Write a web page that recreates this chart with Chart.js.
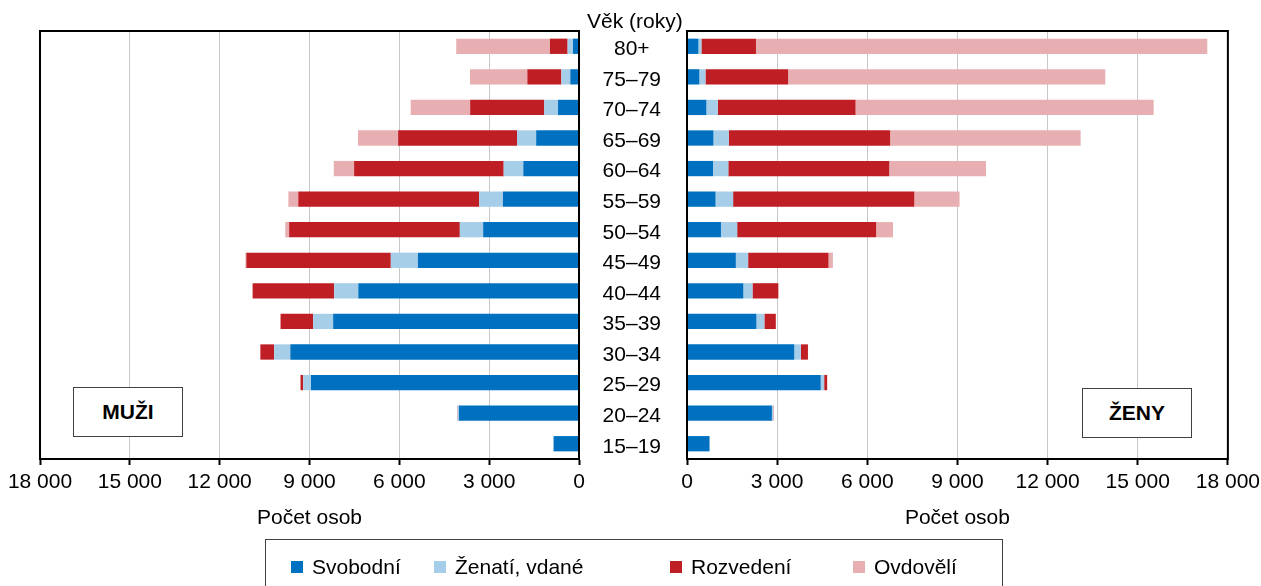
<!DOCTYPE html>
<html>
<head>
<meta charset="utf-8">
<script src="https://cdn.jsdelivr.net/npm/chart.js@4/dist/chart.umd.min.js"></script>
<style>
  body { margin: 0; background: #fff; font-family: 'Liberation Sans', Arial, sans-serif; color: #000; }
  #page { position: relative; width: 1261px; height: 586px; overflow: hidden; }
  canvas { position: absolute; top: 0; }
  #menChart { left: 0; }
  #womenChart { left: 586px; }
  .txt { position: absolute; font-size: 21px; white-space: nowrap; }
  .sexBox { position: absolute; border: 1px solid #404040; font-weight: bold; font-size: 21px;
            display: flex; align-items: center; justify-content: center; background: #fff; }
  #legend { position: absolute; left: 265px; top: 539px; width: 736px; height: 60px; border: 1px solid #404040; }
  .legItem { position: absolute; top: 15px; font-size: 21px; display: flex; align-items: center; }
  .legItem span.sq { display: inline-block; width: 12px; height: 12px; margin-right: 9px; }
</style>
</head>
<body>
<div id="page">
  <canvas id="menChart" width="600" height="545"></canvas>
  <canvas id="womenChart" width="679" height="545"></canvas>
  <div class="txt" style="left:587px; top:9px;">Věk (roky)</div>
  <div class="sexBox" style="left:73px; top:387px; width:108px; height:48px;">MUŽI</div>
  <div class="sexBox" style="left:1082px; top:388px; width:108px; height:48px;">ŽENY</div>
  <div id="legend"></div>
</div>

<script>
// Age groups, top to bottom
const ageGroups = ['80+', '75–79', '70–74', '65–69', '60–64', '55–59', '50–54',
  '45–49', '40–44', '35–39', '30–34', '25–29', '20–24', '15–19'];

const seriesNames = ['Svobodní', 'Ženatí, vdané', 'Rozvedení', 'Ovdovělí'];
const seriesColors = ['#0070C0', '#A6CEE8', '#BE1E24', '#E7AFB1'];

// Men
const menSingle   = [200, 290, 700, 1430, 1860, 2540, 3200, 5380, 7370, 8210, 9640, 8950, 4010, 850];
const menMarried  = [180, 300, 460, 640, 655, 795, 780, 905, 805, 670, 540, 260, 40, 0];
const menDivorced = [590, 1135, 2475, 3970, 4995, 6040, 5700, 4825, 2720, 1085, 460, 90, 10, 0];
const menWidowed  = [3130, 1915, 1985, 1340, 680, 330, 130, 30, 20, 10, 5, 0, 0, 0];

// Women
const womenSingle   = [380, 410, 645, 880, 865, 950, 1130, 1625, 1875, 2310, 3570, 4450, 2825, 750];
const womenMarried  = [100, 205, 380, 510, 510, 585, 540, 410, 305, 265, 220, 115, 40, 0];
const womenDivorced = [1815, 2750, 4585, 5370, 5355, 6030, 4625, 2675, 850, 380, 235, 100, 10, 0];
const womenWidowed  = [15020, 10555, 9920, 6340, 3220, 1505, 560, 145, 30, 10, 5, 0, 0, 0];

const axisMax = 18000;
const axisStep = 3000;

Chart.defaults.font.family = "'Liberation Sans', Arial, sans-serif";
Chart.defaults.font.size = 21;
Chart.defaults.color = '#000';

function fmt(v) {
  return String(v).replace(/\B(?=(\d{3})+(?!\d))/g, ' ');
}

// black frame round the plot area
const framePlugin = {
  id: 'frame',
  afterDatasetsDraw(chart) {
    const { ctx, chartArea: a } = chart;
    ctx.save();
    ctx.strokeStyle = '#000';
    ctx.lineWidth = 2;
    ctx.strokeRect(a.left, a.top, a.right - a.left, a.bottom - a.top);
    ctx.restore();
  }
};

function makeDatasets(values) {
  return values.map((data, i) => ({
    label: seriesNames[i],
    data: data,
    backgroundColor: seriesColors[i],
    borderWidth: 0,
    barPercentage: 0.5,
    categoryPercentage: 1
  }));
}

function xScale(reverse) {
  return {
    stacked: true,
    reverse: reverse,
    min: 0,
    max: axisMax,
    ticks: {
      stepSize: axisStep,
      padding: 5,
      maxRotation: 0,
      callback: v => fmt(v)
    },
    grid: { color: '#c8c8c8', tickColor: '#000', tickLength: 6, tickWidth: 2 },
    border: { color: '#000', width: 2 },
    title: { display: true, text: 'Počet osob', padding: { top: 0, bottom: 14 } },
    afterFit: scale => { scale.height = 86; }
  };
}

function initCharts() {
  new Chart(document.getElementById('menChart'), {
    type: 'bar',
    data: {
      labels: ageGroups,
      datasets: makeDatasets([menSingle, menMarried, menDivorced, menWidowed])
    },
    options: {
      indexAxis: 'y',
      responsive: false,
      animation: false,
      layout: { padding: { left: 40, right: 21, top: 31, bottom: 0 } },
      plugins: { legend: { display: false }, tooltip: { enabled: false } },
      scales: {
        x: xScale(true),
        y: { stacked: true, display: false }
      }
    },
    plugins: [framePlugin]
  });

  new Chart(document.getElementById('womenChart'), {
    type: 'bar',
    data: {
      labels: ageGroups,
      datasets: makeDatasets([womenSingle, womenMarried, womenDivorced, womenWidowed])
    },
    options: {
      indexAxis: 'y',
      responsive: false,
      animation: false,
      layout: { padding: { left: 0, right: 0, top: 31, bottom: 0 } },
      plugins: { legend: { display: false }, tooltip: { enabled: false } },
      scales: {
        x: xScale(false),
        y: {
          stacked: true,
          position: 'left',
          grid: { display: false, drawTicks: true, tickLength: 26 },
          border: { display: false },
          ticks: { crossAlign: 'center', padding: 0, labelOffset: 3 },
          afterFit: scale => { scale.width = 101; }
        }
      }
    },
    plugins: [framePlugin]
  });
}

// Legend
function buildLegend() {
  const legendX = [25, 168, 404, 587];
  const legend = document.getElementById('legend');
  seriesNames.forEach((name, i) => {
    const item = document.createElement('div');
    item.className = 'legItem';
    item.style.left = legendX[i] + 'px';
    item.innerHTML = '<span class="sq" style="background:' + seriesColors[i] + '"></span>' + name;
    legend.appendChild(item);
  });
}

initCharts();
buildLegend();
</script>
</body>
</html>
